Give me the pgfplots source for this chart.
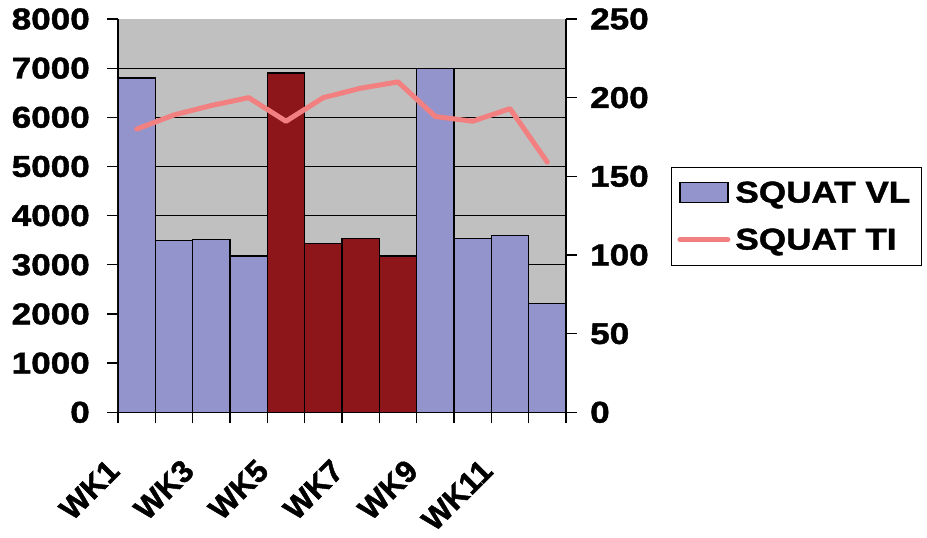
\documentclass[border=0pt]{standalone}
\usepackage{pgfplots}
\pgfplotsset{compat=1.18}
\usepackage{fontspec}
\setmainfont{Liberation Sans}[FakeStretch=1.17, BoldFeatures={FakeBold=1.5}]
\newfontfamily\plainfont{Liberation Sans}[BoldFeatures={FakeBold=1.5}]
\definecolor{bgc}{RGB}{192,192,192}
\definecolor{vlblue}{RGB}{148,148,204}
\definecolor{vlred}{RGB}{140,22,26}
\definecolor{tipink}{RGB}{242,128,128}
\newcommand\chartfont{\fontsize{30}{36}\selectfont\bfseries}
\newcommand\wkfont{\plainfont\fontsize{31}{37}\selectfont\bfseries}

\pgfplotsset{
  common/.style={
    scale only axis, width=448pt, height=393.3pt,
    at={(0pt,0pt)}, anchor=south west,
    xmin=0.5, xmax=12.5,
    axis line style={-, black, line width=1.6pt},
    tick align=outside, major tick length=11pt,
    tick style={black, line width=1.3pt},
    ticklabel style={font=\chartfont},
    /pgf/number format/1000 sep={},
    /pgf/number format/assume math mode=true,
  },
}

\begin{document}
\begin{tikzpicture}
\path[use as bounding box] (-118pt,-125.7pt) rectangle (809pt,412.3pt);

% left axis: volume load bars
\begin{axis}[common,
  ymin=0, ymax=8000,
  axis x line*=bottom, axis y line*=left,
  axis background/.style={fill=bgc},
  xtick={0.5,1.5,...,12.5}, xticklabels={},
  ytick={0,1000,...,8000},
  minor ytick={1000,2000,...,7000}, yminorgrids, minor tick length=0pt,
  minor grid style={black, line width=1.3pt},
  yticklabel style={inner xsep=0pt, xshift=-17pt},
  extra x ticks={1,3,5,7,9,11},
  extra x tick labels={WK1,WK3,WK5,WK7,WK9,WK11},
  extra x tick style={major tick length=0pt,
    xticklabel style={font=\wkfont, anchor=east, inner sep=0pt,
      xshift=-23pt, yshift=-53pt, rotate=45}},
]
\addplot[ybar, bar width=1, bar shift=0pt, fill=vlblue, draw=black, line width=1.3pt]
  coordinates {(1,6800) (2,3490) (3,3510) (4,3180) (9,7000) (10,3540) (11,3590) (12,2220)};
\addplot[ybar, bar width=1, bar shift=0pt, fill=vlred, draw=black, line width=1.3pt]
  coordinates {(5,6900) (6,3430) (7,3540) (8,3180)};
\end{axis}

% right axis: training impulse line
\begin{axis}[common,
  ymin=0, ymax=250,
  axis x line=none, axis y line*=right,
  ytick={0,50,...,250},
  yticklabel style={inner xsep=0pt, xshift=13pt},
  legend cell align=left,
  legend style={at={(1.234,0.6245)}, anchor=north west,
    draw=black, line width=1.2pt, fill=none,
    inner xsep=6pt, inner ysep=2pt, row sep=0pt,
    font=\chartfont,
    nodes={inner xsep=5pt, inner ysep=11.75pt, text height=21.5pt, text depth=2pt}},
]
\addlegendimage{legend image code/.code={\draw[fill=vlblue, draw=black, line width=1.3pt] (0pt,-10pt) rectangle (48pt,10pt);}}
\addlegendentry{SQUAT VL}
\addplot[tipink, line width=5pt, line join=round, line cap=round, mark=none,
  legend image code/.code={\draw[tipink, line width=5pt] (0pt,0pt) -- (48pt,0pt);}]
  coordinates {(1,180) (2,189) (3,195) (4,200) (5,185) (6,200) (7,206) (8,210) (9,188) (10,185) (11,193) (12,159)};
\addlegendentry{SQUAT TI}
\end{axis}
\end{tikzpicture}
\end{document}
